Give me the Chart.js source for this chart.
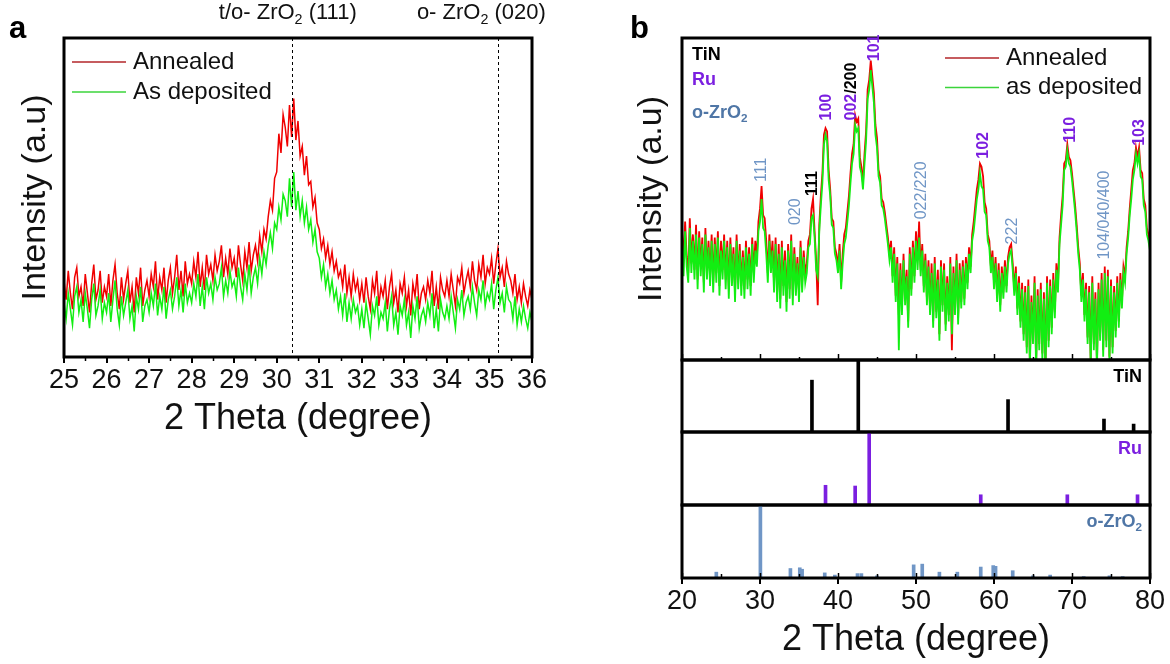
<!DOCTYPE html>
<html><head><meta charset="utf-8">
<script src="https://cdn.jsdelivr.net/npm/chart.js@4.4.0/dist/chart.umd.min.js"></script>
<style>
html,body{margin:0;padding:0;background:#fff;}
#wrap{position:relative;width:1170px;height:664px;overflow:hidden;background:#fff;}
canvas{position:absolute;}
</style></head><body><div id="wrap">
<canvas id="ca" width="600" height="460" style="left:0;top:0"></canvas>
<canvas id="cb" width="570" height="362" style="left:600px;top:0"></canvas>
<canvas id="ct" width="570" height="92" style="left:600px;top:350px"></canvas>
<canvas id="cr" width="570" height="93" style="left:600px;top:422px"></canvas>
<canvas id="cz" width="570" height="169" style="left:600px;top:495px"></canvas>
</div>
<script>
// ---------------- DATA ----------------
// Panel a: 2theta 25..36, sampling grid 0.05 deg
const thetaA = Array.from({length: 221}, (_, i) => +(25 + i * 0.05).toFixed(2));
const annealedA = [
24,18,27,20,15,25,28,19,22,16, 26,20,14,23,29,18,21,27,17,22,
19,26,16,24,29,20,15,25,18,23, 27,17,22,14,25,20,28,16,21,24,
19,26,22,30,18,25,21,28,17,24, 28,20,25,32,21,27,19,30,23,26,
23,30,25,33,22,28,21,32,26,29, 24,32,27,30,35,25,31,26,34,28,
31,25,35,29,24,33,28,36,27,32, 35,30,38,33,40,37, 44,49,46,56,
58,70,64,76, 72,66,79,69, 81,68,74,63, 66,57,63,54, 55,47,50,42,
40,34,37,31,35,29, 33,27,30,25,
27,22,29,20,25,19,26,21,24,18, 23,17,25,19,15,24,20,27,16,22,
19,24,15,22,26,17,21,14,23,20, 25,16,21,13,23,19,26,15,20,22,
18,24,20,27,16,22,15,25,21,19, 24,19,26,21,16,25,23,28,20,24,
27,22,30,24,21,29,25,32,23,28, 26,31,23,29,34,25,28,22,30,26,
24,20,26,18,22,17,23,19,16,21, 18];
const depositedA = [
17,12,20,15,10,19,22,14,18,11, 20,15,9,18,23,13,16,21,12,17,
14,20,11,18,24,15,10,19,13,17, 21,12,16,8,19,15,22,11,16,18,
14,20,16,23,13,19,15,22,12,18, 21,15,19,25,16,21,14,23,17,20,
17,23,19,26,16,22,15,25,20,23, 18,25,21,23,28,19,24,20,27,22,
24,19,28,22,18,26,21,29,20,25, 28,23,31,26,33,29, 35,39,34,42,
40,47,43,51, 49,44,56,47, 58,46,52,44, 49,42,47,40, 43,36,40,33,
31,25,29,22,26,20, 24,18,21,15,
19,13,20,11,17,12,18,14,16,10, 15,9,17,12,7,16,13,19,10,14,
12,17,8,15,19,10,14,7,16,13, 18,10,14,6,16,12,19,9,13,15,
11,17,13,20,9,15,8,18,14,12, 16,12,19,14,9,18,15,21,13,17,
19,15,22,17,13,21,18,24,16,20, 18,23,15,21,25,17,20,14,22,18,
17,12,19,10,15,11,16,12,9,14, 11];
const ticksA = [25,26,27,28,29,30,31,32,33,34,35,36];
const minorTicksA = [25.5,26.5,27.5,28.5,29.5,30.5,31.5,32.5,33.5,34.5,35.5];
const refLinesA = [30.35, 35.2];
const seriesNames = ['Annealed', 'As deposited'];
const seriesNamesB = ['Annealed', 'as deposited'];

// Panel b: 2theta 20..80, sampling grid 0.2 deg
const thetaB = Array.from({length: 301}, (_, i) => +(20 + i * 0.2).toFixed(1));
const annealedB = [
40,31,43,32,27,44,30,39,28,42, 25,40,29,38,24,41,28,37,26,39,
24,38,27,40,23,37,28,39,25,37, 22,38,26,35,21,39,25,36,23,34,
22,37,25,35,23,38,27,37,32,43, 47,54,45,44,37, 27,39,30,37,24,
38,21,36,19,37,23,34,18,36,22, 39,20,35,23,32,21,37,24,34,27,
30,37,39,47,50,40,31,17,42,51, 58,70,72,71,59,53,44,43,35,33,
29,36,24,33,39,41,46,51,58,64, 67,76,74,75,63,60,55,64,71,84,
87,93,88,83,73,69,59,57,50,49, 46,42,38,33,37,26,35,20,32,14,
30,16,33,19,28,12,35,22,37,26, 40,31,43,28,36,23,33,19,31,16,
30,12,32,15,28,8,31,17,30,11, 26,14,32,3,29,16,33,13,30,18,
31,19,32,24,35,29,39,43,48,53, 56,61,60,57,49,47,39,37,29,34,
24,32,20,30,17,29,21,31,23,32, 35,36,30,22,29,16,26,12,24,8,
23,4,25,0,20,7,26,-1,22,5, 24,2,21,-2,26,6,25,10,27,15,
30,23,38,45,51,61,62,67,63,62, 58,53,48,42,35,30,20,27,14,24,
7,23,0,26,5,21,-1,24,8,27, 3,29,6,28,1,25,4,23,9,26,
12,27,18,29,26,35,40,47,53,59, 61,66,63,66,59,58,50,48,41,39, 36];
const depositedB = [
38,26,40,29,24,41,27,37,25,39, 22,38,26,36,21,39,25,35,23,37,
21,36,24,38,20,34,25,37,22,35, 19,36,23,33,18,37,22,34,20,32,
19,35,22,33,20,36,24,34,29,40, 43,50,41,40,33, 24,37,27,34,21,
36,18,33,16,35,20,31,15,34,19, 37,17,33,20,30,18,35,21,32,24,
27,35,36,44,45,38,28,26,40,48, 55,67,70,68,56,51,42,41,33,31,
27,34,22,30,36,38,43,48,55,61, 64,73,71,72,60,58,53,61,68,81,
84,90,85,80,70,66,57,55,48,47, 44,40,36,31,35,24,33,18,30,3,
28,14,31,17,26,10,33,20,35,24, 37,28,38,26,34,21,31,17,29,14,
27,10,30,13,25,6,29,15,28,9, 24,12,30,8,27,14,31,11,28,16,
29,17,30,22,33,27,37,40,45,50, 53,58,54,53,46,45,37,35,27,32,
22,30,18,28,15,27,19,29,21,30, 33,34,28,20,27,14,24,10,22,6,
21,2,23,-2,18,5,24,-3,20,3, 22,0,19,-4,24,4,23,8,25,13,
28,21,36,42,48,59,60,65,61,60, 56,51,46,40,33,28,18,25,12,22,
5,21,-2,24,3,19,-3,22,6,25, 1,27,4,26,-1,23,2,21,7,24,
10,25,16,27,24,33,38,45,50,56, 59,64,61,64,57,56,48,46,39,37, 34];
const ticksB = [20,30,40,50,60,70,80];
const minorTicksB = [25,35,45,55,65,75];

// reference patterns (position, relative intensity %)
const tinPos = [36.66, 42.6, 61.8, 74.1, 77.9];
const tinInt = [72, 100, 45, 18, 11];
const ruPos = [38.4, 42.2, 44.0, 58.3, 69.4, 78.4];
const ruInt = [27, 26, 100, 14, 14, 14];
const zrPos = [24.4, 30.05, 33.9, 35.1, 35.4, 38.3, 39.6, 42.5, 43.0, 45.0, 49.7, 50.8, 53.0, 55.3, 58.3, 59.9, 60.2, 62.4, 65.0, 67.2, 71.5, 74.8, 76.5];
const zrInt = [8, 100, 13, 14, 12, 7, 4, 6, 6, 3, 18, 19, 8, 8, 15, 17, 16, 10, 3, 4, 2, 3, 2];

// peak index labels (text, phase) with their anchor in data units
const peakText = ['111','020','111','100',['002','/200'],'101','022/220','102','222','110','104/040/400','103'];
const peakPhase = ['zr','zr','tin','ru',['ru','tin'],'ru','zr','ru','zr','ru','zr','ru'];
const peakAt = [[30.2,55.3],[34.5,41.9],[36.75,50.9],[38.55,74.4],[41.8,74.4],[44.7,92.8],[50.7,43.7],[58.7,62.5],[62.35,35.9],[69.8,67.5],[74.2,31.2],[78.7,66.5]];

// ---------------- STYLE ----------------
const FONT = '"Liberation Sans", Arial, Helvetica, sans-serif';
Chart.defaults.font.family = FONT;
Chart.defaults.color = '#000';
const RED = '#f00000', GREEN = '#12ee12';
const LEG_RED = '#b3262a', LEG_GREEN = '#3bd43b';
const PHASE_COLOR = {tin: '#000000', ru: '#7b1fe0', zr: '#7096c6'};
const PHASE_BOLD = {tin: true, ru: true, zr: false};
const ZR_TEXT = '#4f76a6';

function fnt(size, bold) { return (bold ? 'bold ' : '') + size + 'px ' + FONT; }

function drawRich(ctx, parts, x, y, o) {
  ctx.save();
  ctx.translate(x, y);
  if (o.rot) ctx.rotate(o.rot);
  ctx.textBaseline = o.baseline || 'middle';
  ctx.textAlign = 'left';
  let w = 0;
  parts.forEach(p => { ctx.font = fnt(p.sub ? o.size * 0.65 : o.size, p.bold ?? o.bold); p._w = ctx.measureText(p.t).width; w += p._w; });
  let cx = o.align === 'center' ? -w / 2 : (o.align === 'right' ? -w : 0);
  parts.forEach(p => {
    ctx.font = fnt(p.sub ? o.size * 0.65 : o.size, p.bold ?? o.bold);
    ctx.fillStyle = p.color || o.color || '#000';
    ctx.fillText(p.t, cx, p.sub ? o.size * 0.3 : 0);
    cx += p._w;
  });
  ctx.restore();
}

function drawTicks(ctx, scale, y, values, len, dir, width) {
  ctx.save();
  ctx.strokeStyle = '#000';
  ctx.lineWidth = width;
  values.forEach(v => {
    const px = Math.round(scale.getPixelForValue(v)) + 0.5;
    ctx.beginPath(); ctx.moveTo(px, y); ctx.lineTo(px, y + dir * len); ctx.stroke();
  });
  ctx.restore();
}

function drawFrame(chart) {
  const {ctx, chartArea: a} = chart;
  ctx.save();
  ctx.strokeStyle = '#000';
  ctx.lineWidth = 3;
  ctx.strokeRect(a.left, a.top, a.right - a.left, a.bottom - a.top);
  ctx.restore();
}

function drawLegend(chart, names, x0, y0, dy) {
  const {ctx} = chart;
  const cols = [LEG_RED, LEG_GREEN];
  names.forEach((n, i) => {
    const y = y0 + i * dy;
    ctx.save();
    ctx.strokeStyle = cols[i]; ctx.lineWidth = 1.5;
    ctx.beginPath(); ctx.moveTo(x0, y); ctx.lineTo(x0 + 54, y); ctx.stroke();
    ctx.fillStyle = '#111'; ctx.font = fnt(24, false); ctx.textBaseline = 'middle';
    ctx.fillText(n, x0 + 61, y);
    ctx.restore();
  });
}

const baseXScale = (min, max, show) => ({
  type: 'linear', min, max, display: show, offset: false,
  border: {display: false},
  grid: {display: true, offset: false, drawOnChartArea: false, drawTicks: true, tickLength: 6, color: '#000', lineWidth: 2},
  ticks: {font: {size: 27}, color: '#111', padding: 1, maxRotation: 0, autoSkip: false}
});

// ---------------- PANEL A ----------------
new Chart(document.getElementById('ca'), {
  type: 'line',
  data: {
    labels: thetaA,
    datasets: [
      {label: seriesNames[0], data: annealedA.map((v, i) => ({x: thetaA[i], y: v})), borderColor: RED, borderWidth: 1.5, pointRadius: 0, order: 2},
      {label: seriesNames[1], data: depositedA.map((v, i) => ({x: thetaA[i], y: v})), borderColor: GREEN, borderWidth: 1.5, pointRadius: 0, order: 1}
    ]
  },
  options: {
    responsive: false, animation: false, events: [],
    layout: {padding: {top: 38, right: 68, left: 0, bottom: 0}},
    plugins: {legend: {display: false}, tooltip: {enabled: false}},
    scales: {
      x: Object.assign(baseXScale(25, 36, true), {
        afterBuildTicks: s => { s.ticks = ticksA.map(v => ({value: v})); },
        afterFit: s => { s.height = 103; },
        title: {display: true, text: '2 Theta (degree)', font: {size: 36, lineHeight: 1.2}, color: '#111', padding: {top: 0, bottom: 19}}
      }),
      y: {
        min: 0, max: 100, border: {display: false}, grid: {display: false},
        ticks: {display: false},
        afterFit: s => { s.width = 64; },
        title: {display: true, text: 'Intensity (a.u)', font: {size: 34, lineHeight: 1.2}, color: '#111', padding: {top: 15, bottom: 0}}
      }
    }
  },
  plugins: [{
    id: 'decoA',
    afterDatasetsDraw(chart) {
      const {ctx, chartArea: a, scales: {x}} = chart;
      ctx.save();
      ctx.strokeStyle = '#000'; ctx.lineWidth = 1; ctx.setLineDash([3, 3]);
      refLinesA.forEach(v => { const px = Math.round(x.getPixelForValue(v)) + 0.5; ctx.beginPath(); ctx.moveTo(px, a.top); ctx.lineTo(px, a.bottom); ctx.stroke(); });
      ctx.restore();
      drawFrame(chart);
      drawTicks(ctx, x, a.bottom, minorTicksA, 4, 1, 1.5);
    },
    afterDraw(chart) {
      const {ctx, chartArea: a, scales: {x}} = chart;
      drawLegend(chart, seriesNames, a.left + 8, a.top + 24, 30);
      drawRich(ctx, [{t: 't/o- ZrO'}, {t: '2', sub: true}, {t: ' (111)'}], x.getPixelForValue(30.26), 13, {size: 22, align: 'center', color: '#111'});
      drawRich(ctx, [{t: 'o- ZrO'}, {t: '2', sub: true}, {t: ' (020)'}], x.getPixelForValue(34.81), 13, {size: 22, align: 'center', color: '#111'});
      drawRich(ctx, [{t: 'a'}], 9, 38, {size: 31, bold: true, baseline: 'alphabetic'});
    }
  }]
});

// ---------------- PANEL B (main) ----------------
new Chart(document.getElementById('cb'), {
  type: 'line',
  data: {
    labels: thetaB,
    datasets: [
      {label: seriesNamesB[0], data: annealedB.map((v, i) => ({x: thetaB[i], y: v})), borderColor: RED, borderWidth: 1.8, pointRadius: 0, order: 2},
      {label: seriesNamesB[1], data: depositedB.map((v, i) => ({x: thetaB[i], y: v})), borderColor: GREEN, borderWidth: 1.8, pointRadius: 0, order: 1}
    ]
  },
  options: {
    responsive: false, animation: false, events: [],
    layout: {padding: {top: 38, right: 20, left: 0, bottom: 2}},
    plugins: {legend: {display: false}, tooltip: {enabled: false}},
    scales: {
      x: baseXScale(20, 80, false),
      y: {
        min: 0, max: 100, border: {display: false}, grid: {display: false},
        ticks: {display: false},
        afterFit: s => { s.width = 82; },
        title: {display: true, text: 'Intensity (a.u)', font: {size: 34, lineHeight: 1.2}, color: '#111', padding: {top: 31, bottom: 0}}
      }
    }
  },
  plugins: [{
    id: 'decoB',
    afterDatasetsDraw(chart) {
      const {ctx, chartArea: a, scales: {x}} = chart;
      drawFrame(chart);
      drawTicks(ctx, x, a.bottom, ticksB, 6, -1, 1.5);
      drawTicks(ctx, x, a.bottom, minorTicksB, 3, -1, 1.5);
    },
    afterDraw(chart) {
      const {ctx, chartArea: a, scales: {x, y}} = chart;
      peakText.forEach((t, i) => {
        const txt = Array.isArray(t) ? t : [t];
        const ph = Array.isArray(peakPhase[i]) ? peakPhase[i] : [peakPhase[i]];
        const parts = txt.map((s, k) => ({t: s, color: PHASE_COLOR[ph[k]], bold: PHASE_BOLD[ph[0]]}));
        drawRich(ctx, parts, x.getPixelForValue(peakAt[i][0]), y.getPixelForValue(peakAt[i][1]), {size: 16, rot: -Math.PI / 2, align: 'left'});
      });
      drawRich(ctx, [{t: 'TiN'}], a.left + 10, a.top + 17, {size: 18, bold: true, color: PHASE_COLOR.tin});
      drawRich(ctx, [{t: 'Ru'}], a.left + 10, a.top + 42, {size: 18, bold: true, color: PHASE_COLOR.ru});
      drawRich(ctx, [{t: 'o-ZrO'}, {t: '2', sub: true}], a.left + 10, a.top + 75, {size: 18, bold: true, color: ZR_TEXT});
      drawLegend(chart, seriesNamesB, a.right - 205, a.top + 20, 29.5);
      drawRich(ctx, [{t: 'b'}], 30, 38, {size: 31, bold: true, baseline: 'alphabetic'});
    }
  }]
});

// ---------------- REFERENCE PATTERNS ----------------
function stickChart(id, pos, inten, color, width, label, labelParts, labelColor, showX, padBottom) {
  return new Chart(document.getElementById(id), {
    type: 'bar',
    data: {datasets: [{label, data: pos.map((p, i) => ({x: p, y: inten[i]})), backgroundColor: color, barThickness: width, grouped: false}]},
    options: {
      responsive: false, animation: false, events: [],
      layout: {padding: {top: 10, right: 20, left: 0, bottom: padBottom}},
      plugins: {legend: {display: false}, tooltip: {enabled: false}},
      scales: {
        x: Object.assign(baseXScale(20, 80, showX), showX ? {
          afterBuildTicks: s => { s.ticks = ticksB.map(v => ({value: v})); },
          afterFit: s => { s.height = 86; },
          title: {display: true, text: '2 Theta (degree)', font: {size: 36, lineHeight: 1.2}, color: '#111', padding: {top: 0, bottom: 2}}
        } : {}),
        y: {min: 0, max: 100, border: {display: false}, grid: {display: false}, ticks: {display: false}, afterFit: s => { s.width = 82; }}
      }
    },
    plugins: [{
      id: 'stk' + id,
      afterDatasetsDraw(chart) {
        const {ctx, chartArea: a, scales: {x}} = chart;
        drawFrame(chart);
        if (showX) {
          drawTicks(ctx, x, a.bottom, ticksB, 5, -1, 1.5);
          drawTicks(ctx, x, a.bottom, minorTicksB, 4, -1, 1.5);
        }
        drawRich(ctx, labelParts, a.right - 8, a.top + 17, {size: 18, bold: true, align: 'right', color: labelColor});
      }
    }]
  });
}
stickChart('ct', tinPos, tinInt, PHASE_COLOR.tin, 3, 'TiN', [{t: 'TiN'}], '#000', false, 10);
stickChart('cr', ruPos, ruInt, PHASE_COLOR.ru, 3, 'Ru', [{t: 'Ru'}], PHASE_COLOR.ru, false, 10);
stickChart('cz', zrPos, zrInt, PHASE_COLOR.zr, 3, 'o-ZrO2', [{t: 'o-ZrO'}, {t: '2', sub: true}], ZR_TEXT, true, 0);
</script>
</body></html>
